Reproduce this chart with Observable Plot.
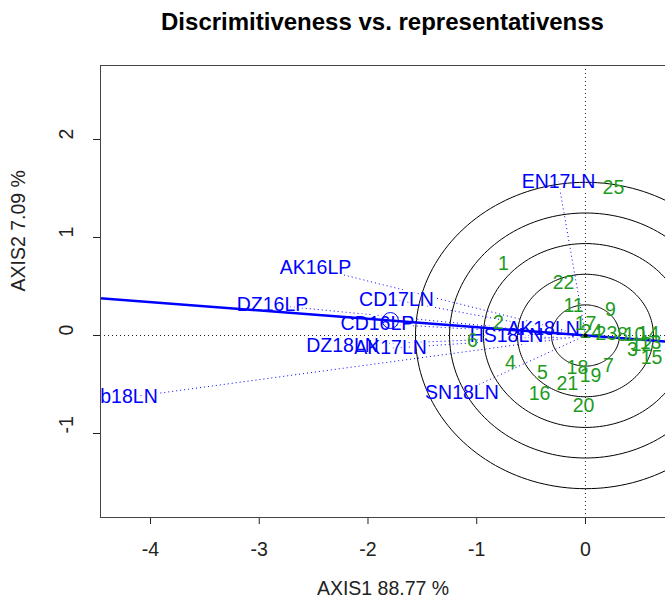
<!DOCTYPE html>
<html><head><meta charset="utf-8">
<script src="https://cdn.jsdelivr.net/npm/d3@7"></script>
<script src="https://cdn.jsdelivr.net/npm/@observablehq/plot@0.6"></script>
<style>
body{margin:0;background:#fff;font-family:"Liberation Sans",Arial,sans-serif;}
#title{width:565px;padding-left:100px;height:44px;line-height:44px;text-align:center;font-weight:bold;font-size:24px;color:#000;}
</style></head><body>
<div id="title">Discrimitiveness vs. representativenss</div>
<div id="chart"></div>
<script>
// Environments (blue)
const envNames = ["EN17LN","AK16LP","CD17LN","DZ16LP","CD16LP","DZ18LN","AK17LN","b18LN","SN18LN","HS18LN","AK18LN"];
const envX = [-0.248,-2.483,-1.738,-2.878,-1.913,-2.234,-1.793,-4.198,-1.136,-0.726,-0.386];
const envY = [1.57,0.69,0.36,0.31,0.12,-0.10,-0.13,-0.63,-0.58,0.00,0.07];
// Genotypes (green)
const genoNames = ["1","2","3","4","5","6","7","8","9","10","11","12","13","14","15","16","17","18","19","20","21","22","23","24","25"];
const genoX = [-0.754,-0.800,0.432,-0.690,-0.395,-1.039,0.211,0.340,0.230,0.451,-0.110,0.515,0.598,0.579,0.607,-0.423,0.000,-0.074,0.046,-0.018,-0.166,-0.202,0.193,0.055,0.257];
const genoY = [0.735,0.133,-0.143,-0.276,-0.378,-0.051,-0.306,0.010,0.265,0.010,0.306,-0.092,-0.071,0.020,-0.224,-0.592,0.122,-0.327,-0.408,-0.714,-0.490,0.541,0.020,0.041,1.510];
// Concentric circle radii
const circleRadii = [0.3126,0.625,0.938,1.25,1.563];
// Axes
const xTicks = [-4,-3,-2,-1,0];
const yTicks = [-1,0,1,2];
const xDomain = [-4.46,0.736];
const yDomain = [-1.857,2.755];
const xTitle = "AXIS1 88.77 %";
const yTitle = "AXIS2 7.09 %";

const env = envNames.map((name,i)=>({name,x:envX[i],y:envY[i]}));
const geno = genoNames.map((name,i)=>({name,x:genoX[i],y:genoY[i]}));
const aea = {x:d3.mean(envX), y:d3.mean(envY)};
const slope = aea.y/aea.x;
const aeaLine = [xDomain[0]-1, xDomain[1]+1].map(x=>({x, y:x*slope}));
const circlePts = circleRadii.flatMap(r => d3.range(0,361,2).map(a=>({r, x:r*Math.cos(a*Math.PI/180), y:r*Math.sin(a*Math.PI/180)})));

const FS = 19.5;
const chart = Plot.plot({
  width:665, height:559,
  marginLeft:100, marginRight:0, marginTop:21, marginBottom:86,
  style:{fontFamily:"'Liberation Sans', Arial, sans-serif", fontSize:FS+"px", background:"white", color:"#222"},
  x:{domain:xDomain, ticks:xTicks, tickSize:7, tickPadding:18, tickFormat:d=>String(d), label:null},
  y:{domain:yDomain, ticks:yTicks, tickSize:7, tickFormat:()=>"", label:null},
  marks:[
    Plot.ruleX([0],{stroke:"#222", strokeDasharray:"1,3"}),
    Plot.ruleY([0],{stroke:"#222", strokeDasharray:"1,3"}),
    Plot.link(env,{x1:()=>0, y1:()=>0, x2:"x", y2:"y", stroke:"blue", strokeDasharray:"1,3", strokeWidth:1, clip:true}),
    Plot.text(env,{x:"x", y:"y", text:"name", fill:"white", stroke:"white", strokeWidth:4, fontSize:FS, clip:true}),
    Plot.line(circlePts,{x:"x", y:"y", z:"r", stroke:"black", strokeWidth:1, clip:true}),
    Plot.line(aeaLine,{x:"x", y:"y", stroke:"blue", strokeWidth:2.5, clip:true}),
    Plot.dot([aea],{x:"x", y:"y", r:8, stroke:"blue", fill:"none", strokeWidth:1}),
    Plot.text(env,{x:"x", y:"y", text:"name", fill:"blue", fontSize:FS, clip:true}),
    Plot.text(geno,{x:"x", y:"y", text:"name", fill:"#1d9b1d", fontSize:FS, clip:true}),
    Plot.dot([{x:0,y:0}],{x:"x", y:"y", r:2, fill:"black"}),
    Plot.ruleY([yDomain[0], yDomain[1]],{stroke:"#444"}),
    Plot.ruleX([xDomain[0]],{stroke:"#444"}),
    Plot.text(yTicks,{y:d=>d, frameAnchor:"left", dx:-34, rotate:-90, text:d=>String(d), fontSize:FS, fill:"#222"}),
    Plot.text([xTitle],{frameAnchor:"bottom", dy:77, text:d=>d, fontSize:FS, fill:"#222"}),
    Plot.text([yTitle],{frameAnchor:"left", dx:-82, rotate:-90, text:d=>d, fontSize:FS, fill:"#222"})
  ]
});
document.getElementById("chart").appendChild(chart);
</script></body></html>
